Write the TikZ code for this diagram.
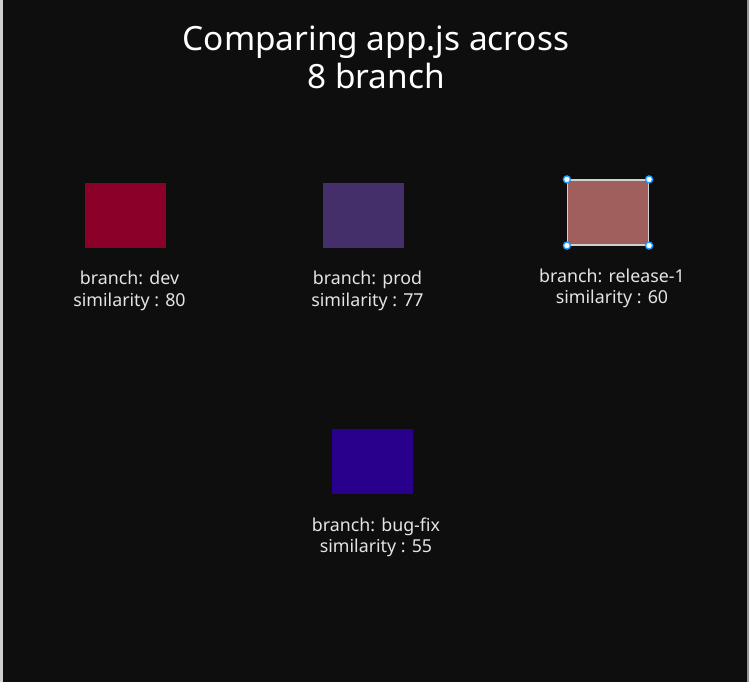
\documentclass[tikz,border=0pt]{standalone}
\usepackage{fontspec}
\setmainfont{Noto Sans}
\definecolor{bgDark}{HTML}{0E0E0E}
\definecolor{edgeGray}{HTML}{D0D0D0}
\definecolor{textGray}{HTML}{E4E4E4}
\definecolor{devRed}{HTML}{8B0029}
\definecolor{prodPurple}{HTML}{452F6B}
\definecolor{relRose}{HTML}{A05E5C}
\definecolor{fixIndigo}{HTML}{28008C}
\definecolor{selBlue}{HTML}{1A9BFF}
\usetikzlibrary{positioning}

\begin{document}
\begin{tikzpicture}[x=1pt, y=-1pt, node distance=20pt,
  swatch/.style={minimum width=81pt, minimum height=65pt, inner sep=0pt},
  lbl/.style={align=center, text=textGray, font=\fontsize{17.8}{21.5}\selectfont,
              inner sep=0pt, xshift=4pt},
  handle/.style={circle, draw=selBlue, fill=white, line width=1.3pt,
                 inner sep=0pt, minimum size=7pt}]
  % canvas
  \fill[bgDark] (0,0) rectangle (749,682);
  \fill[edgeGray] (0,0) rectangle (2.5,682);
  \fill[edgeGray!70!bgDark] (747,0) rectangle (748.5,682);
  \useasboundingbox (0,0) rectangle (749,682);
  % title
  \node[align=center, text=white, font=\fontsize{33.4}{38.5}\selectfont] (title)
       at (376,57.5) {Comparing app.js across\\ 8 branch};
  % swatches
  \node[swatch, fill=devRed] (dev) at (125.5,215.5) {};
  \node[swatch, fill=prodPurple] (prod) at (363.5,215.5) {};
  \node[swatch, fill=relRose, draw=edgeGray, line width=1.2pt] (rel) at (608,212.5) {};
  \node[swatch, fill=fixIndigo] (fix) at (372,461.5) {};
  % labels
  \node[lbl, below=23pt of dev] (devL) {branch: dev\\ similarity : 80};
  \node[lbl, below=23pt of prod] (prodL) {branch: prod\\ similarity : 77};
  \node[lbl, below=23pt of rel] (relL) {branch: release-1\\ similarity : 60};
  \node[lbl, below=23pt of fix] (fixL) {branch: bug-fix\\ similarity : 55};
  % selection handles
  \foreach \c in {north west, north east, south west, south east}
    \node[handle] at (rel.\c) {};
\end{tikzpicture}
\end{document}
